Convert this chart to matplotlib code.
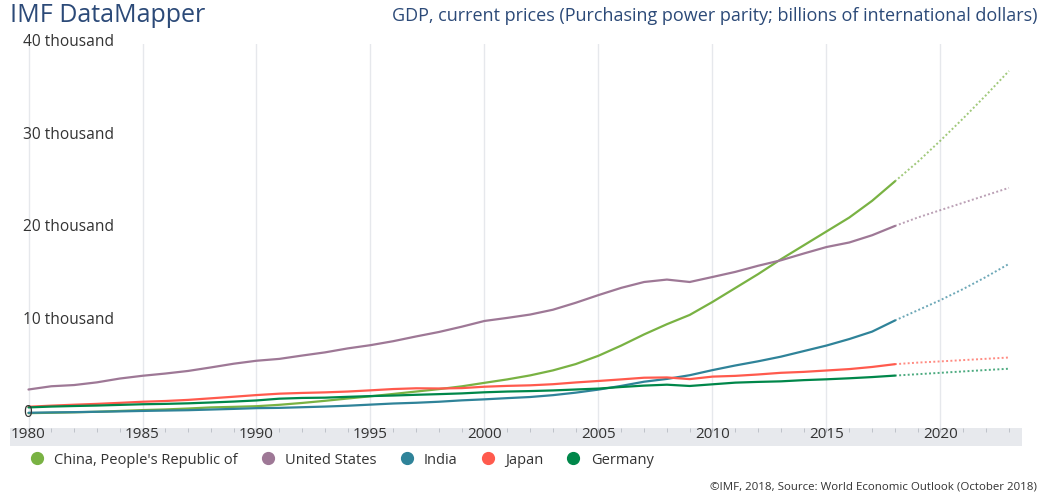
import matplotlib.pyplot as plt
from matplotlib.lines import Line2D

plt.rcParams['font.family'] = ['Open Sans', 'DejaVu Sans']

years = list(range(1980, 2024))
last_actual = 2018

# GDP, PPP, billions of international dollars
china = [310, 350, 400, 460, 550, 640, 710, 810, 930, 990,
         1060, 1210, 1410, 1640, 1890, 2130, 2380, 2640, 2900, 3200,
         3580, 3950, 4380, 4920, 5600, 6500, 7600, 8800, 9900, 10900,
         12300, 13800, 15300, 16900, 18400, 19900, 21400, 23200, 25300,
         27400, 29700, 32100, 34600, 37200]
usa = [2860, 3210, 3340, 3630, 4040, 4340, 4580, 4860, 5240, 5640,
       5960, 6160, 6520, 6860, 7290, 7640, 8070, 8580, 9060, 9630,
       10250, 10580, 10940, 11460, 12210, 13040, 13820, 14450, 14710, 14450,
       14990, 15540, 16200, 16790, 17520, 18220, 18710, 19490, 20490,
       21400, 22200, 23000, 23800, 24600]
india = [350, 390, 420, 460, 500, 550, 590, 630, 700, 770,
         850, 880, 950, 1020, 1110, 1230, 1350, 1430, 1540, 1690,
         1800, 1930, 2050, 2250, 2520, 2850, 3250, 3700, 4000, 4400,
         4950, 5450, 5900, 6400, 7000, 7600, 8300, 9100, 10300,
         11400, 12500, 13700, 15000, 16400]
japan = [1000, 1120, 1220, 1310, 1420, 1540, 1620, 1740, 1910, 2080,
         2260, 2410, 2490, 2550, 2640, 2770, 2910, 2990, 2970, 3010,
         3160, 3250, 3310, 3430, 3620, 3780, 3950, 4130, 4160, 3980,
         4250, 4330, 4480, 4660, 4760, 4910, 5060, 5290, 5590,
         5760, 5890, 6030, 6170, 6310]
germany = [930, 1020, 1080, 1130, 1200, 1270, 1310, 1370, 1460, 1560,
           1680, 1870, 1950, 1980, 2070, 2150, 2210, 2290, 2360, 2440,
           2560, 2640, 2690, 2760, 2860, 2960, 3130, 3280, 3380, 3240,
           3420, 3600, 3680, 3740, 3870, 3960, 4070, 4200, 4360,
           4510, 4660, 4810, 4960, 5100]

countries = ["China, People's Republic of", "United States", "India", "Japan", "Germany"]
colors = ["#79b243", "#9e7896", "#2f8399", "#ff5a4d", "#00874a"]
series = [china, usa, india, japan, germany]

W, H = 1043, 494
fig = plt.figure(figsize=(W / 100, H / 100), dpi=100)

# axes placed in pixel coords: left 10, right 1022, top 44, bottom 428
ax = fig.add_axes([10 / W, 1 - 428 / H, 1012 / W, 384 / H])
ppy = 22.8
ax.set_xlim(1980 - 18.5 / ppy, 1980 + (1022 - 28.5) / ppy)
ax.set_ylim(-12 / 9.3 * 1000, 40000 + 1 / 9.3 * 1000)

n = years.index(last_actual) + 1
for vals, c in zip(series, colors):
    ax.plot(years[:n], vals[:n], color=c, lw=1.6, solid_capstyle='round', zorder=3)
    ax.plot(years[n - 1:], vals[n - 1:], color=c, lw=1.4, ls=(0, (1, 1.2)), alpha=0.7, zorder=3)

for y in range(1980, 2021, 5):
    ax.axvline(y, color="#e6e8ec", lw=1, zorder=1)

for s in ax.spines.values():
    s.set_visible(False)
ax.set_xticks([])
ax.set_yticks([])

ylabels = ["0", "10 thousand", "20 thousand", "30 thousand", "40 thousand"]
for i, lab in enumerate(ylabels):
    ax.text(1980 - 5.5 / ppy, i * 10000 + 350, lab, ha='left', va='center',
            fontsize=11.2, color="#333333", zorder=4)

# x axis band
band = fig.add_axes([10 / W, 1 - 446 / H, 1012 / W, 18 / H])
band.set_xlim(ax.get_xlim())
band.set_ylim(0, 1)
band.set_facecolor("#e7e9ed")
for s in band.spines.values():
    s.set_visible(False)
band.set_yticks([])
band.set_xticks(range(1980, 2021, 5))
band.set_xticklabels([str(y) for y in range(1980, 2021, 5)])
band.set_xticks(range(1980, 2024), minor=True)
band.tick_params(axis='x', which='both', direction='in', length=3, color="#b8bcc4",
                 top=True, bottom=False, labeltop=False, labelbottom=True,
                 pad=-13.5, labelsize=11, labelcolor="#333333")

fig.text(10 / W, 1 - 15 / H, "IMF DataMapper", fontsize=18, color="#2c4a78",
         ha='left', va='center')
fig.text(1037 / W, 1 - 16 / H,
         "GDP, current prices (Purchasing power parity; billions of international dollars)",
         fontsize=13, color="#2c4a78", ha='right', va='center')
fig.text(1037 / W, 1 - 487 / H,
         "\u00a9IMF, 2018, Source: World Economic Outlook (October 2018)",
         fontsize=8.25, color="#333333", ha='right', va='center')

handles = [Line2D([], [], ls='', marker='o', ms=8.5, color=c) for c in colors]
fig.legend(handles, countries, loc='center left', bbox_to_anchor=(22 / W, 1 - 460 / H),
           ncol=5, frameon=False, fontsize=10.5, handletextpad=0.6, columnspacing=1.45,
           handlelength=1.2, labelcolor="#333333", borderaxespad=0)

fig.savefig("out.png", dpi=100)
